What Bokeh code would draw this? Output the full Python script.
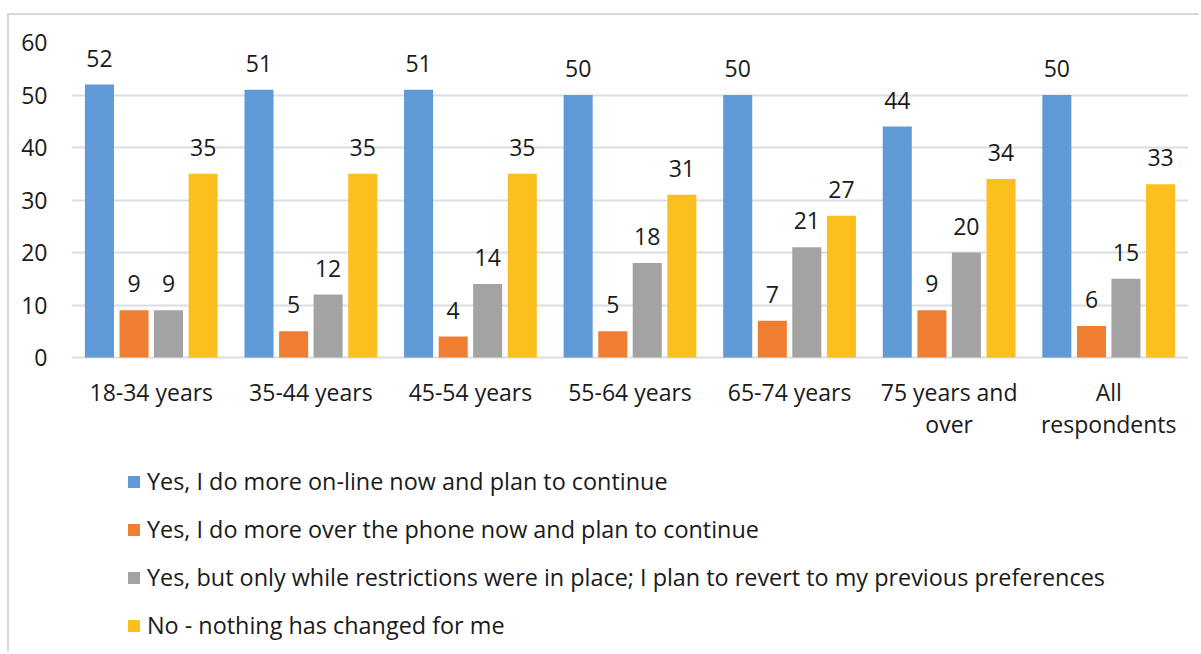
from bokeh.plotting import figure
from bokeh.models import (ColumnDataSource, FactorRange, Legend, LegendItem,
                          FixedTicker, LabelSet)
from bokeh.core.properties import value
from bokeh.transform import dodge
from bokeh.embed import file_html
from bokeh.resources import INLINE

# Survey results: share of respondents (%) by age group
age_groups = ["18-34 years", "35-44 years", "45-54 years", "55-64 years",
              "65-74 years", "75 years and over", "All respondents"]
group_labels = ["18-34 years", "35-44 years", "45-54 years", "55-64 years",
                "65-74 years", "75 years and\nover", "All\nrespondents"]
online_more = [52, 51, 51, 50, 50, 44, 50]
phone_more = [9, 5, 4, 5, 7, 9, 6]
revert_later = [9, 12, 14, 18, 21, 20, 15]
no_change = [35, 35, 35, 31, 27, 34, 33]
y_ticks = [0, 10, 20, 30, 40, 50, 60]

series_names = [
    "Yes, I do more on-line now and plan to continue",
    "Yes, I do more over the phone now and plan to continue",
    "Yes, but only while restrictions were in place; I plan to revert to my previous preferences",
    "No - nothing has changed for me",
]
series_values = [online_more, phone_more, revert_later, no_change]
series_colors = ["#5f9ad6", "#ef7e33", "#a3a3a3", "#fbc01e"]
offsets = [-0.325, -0.108, 0.108, 0.325]

FONT = "Open Sans"
FS = "23px"
TEXT_COLOR = "#1a1a1a"

# the plotting area runs down to the bottom edge so the legend can sit under the bars
p = figure(width=1192, height=639, x_range=FactorRange(*age_groups, range_padding=0),
           y_range=(-56.57, 60), output_backend="svg", toolbar_location=None,
           x_axis_location=None,
           min_border_left=62, min_border_right=13, min_border_top=27,
           min_border_bottom=0)
p.margin = (13, 0, 0, 7)
p.styles = {"border-left": "2px solid #d9d9d9", "border-top": "2px solid #d9d9d9"}

src = ColumnDataSource(dict(cat=age_groups, **{f"s{i}": v for i, v in enumerate(series_values)},
                            **{f"l{i}": [str(x) for x in v] for i, v in enumerate(series_values)}))

items = []
for i, (name, color, off) in enumerate(zip(series_names, series_colors, offsets)):
    r = p.vbar(x=dodge("cat", off, range=p.x_range), top=f"s{i}", width=0.182,
               source=src, fill_color=color, line_color=None)
    items.append(LegendItem(label=name, renderers=[r]))
    labels = LabelSet(x=dodge("cat", off, range=p.x_range), y=f"s{i}", text=f"l{i}",
                      source=src, text_align="center", text_baseline="alphabetic",
                      y_offset=18, text_font=value(FONT), text_font_size=FS,
                      text_color=TEXT_COLOR)
    p.add_layout(labels)

# category names under the baseline
p.text(x=age_groups, y=[0] * len(age_groups), text=group_labels, y_offset=18,
       text_align="center", text_baseline="top", text_font=value(FONT),
       text_font_size=FS, text_color=TEXT_COLOR, text_line_height=1.0)

# value axis
p.yaxis.ticker = FixedTicker(ticks=y_ticks)
p.yaxis.axis_line_color = None
p.yaxis.major_tick_line_color = None
p.yaxis.minor_tick_line_color = None
p.yaxis.major_label_standoff = 18
p.yaxis.major_label_text_font = FONT
p.yaxis.major_label_text_font_size = FS
p.yaxis.major_label_text_color = TEXT_COLOR

p.xgrid.grid_line_color = None
p.ygrid.grid_line_color = "#dadde2"
p.ygrid.grid_line_width = 2
p.outline_line_color = None

legend = Legend(items=items, location=(55, 13), orientation="vertical",
                label_text_font=FONT, label_text_font_size="23.4px",
                label_text_color=TEXT_COLOR, glyph_width=15, glyph_height=15,
                label_height=24, spacing=16, padding=0, margin=0,
                border_line_color=None, background_fill_alpha=0,
                label_standoff=6)
p.add_layout(legend)

open("out.html", "w").write(file_html(p, INLINE))
